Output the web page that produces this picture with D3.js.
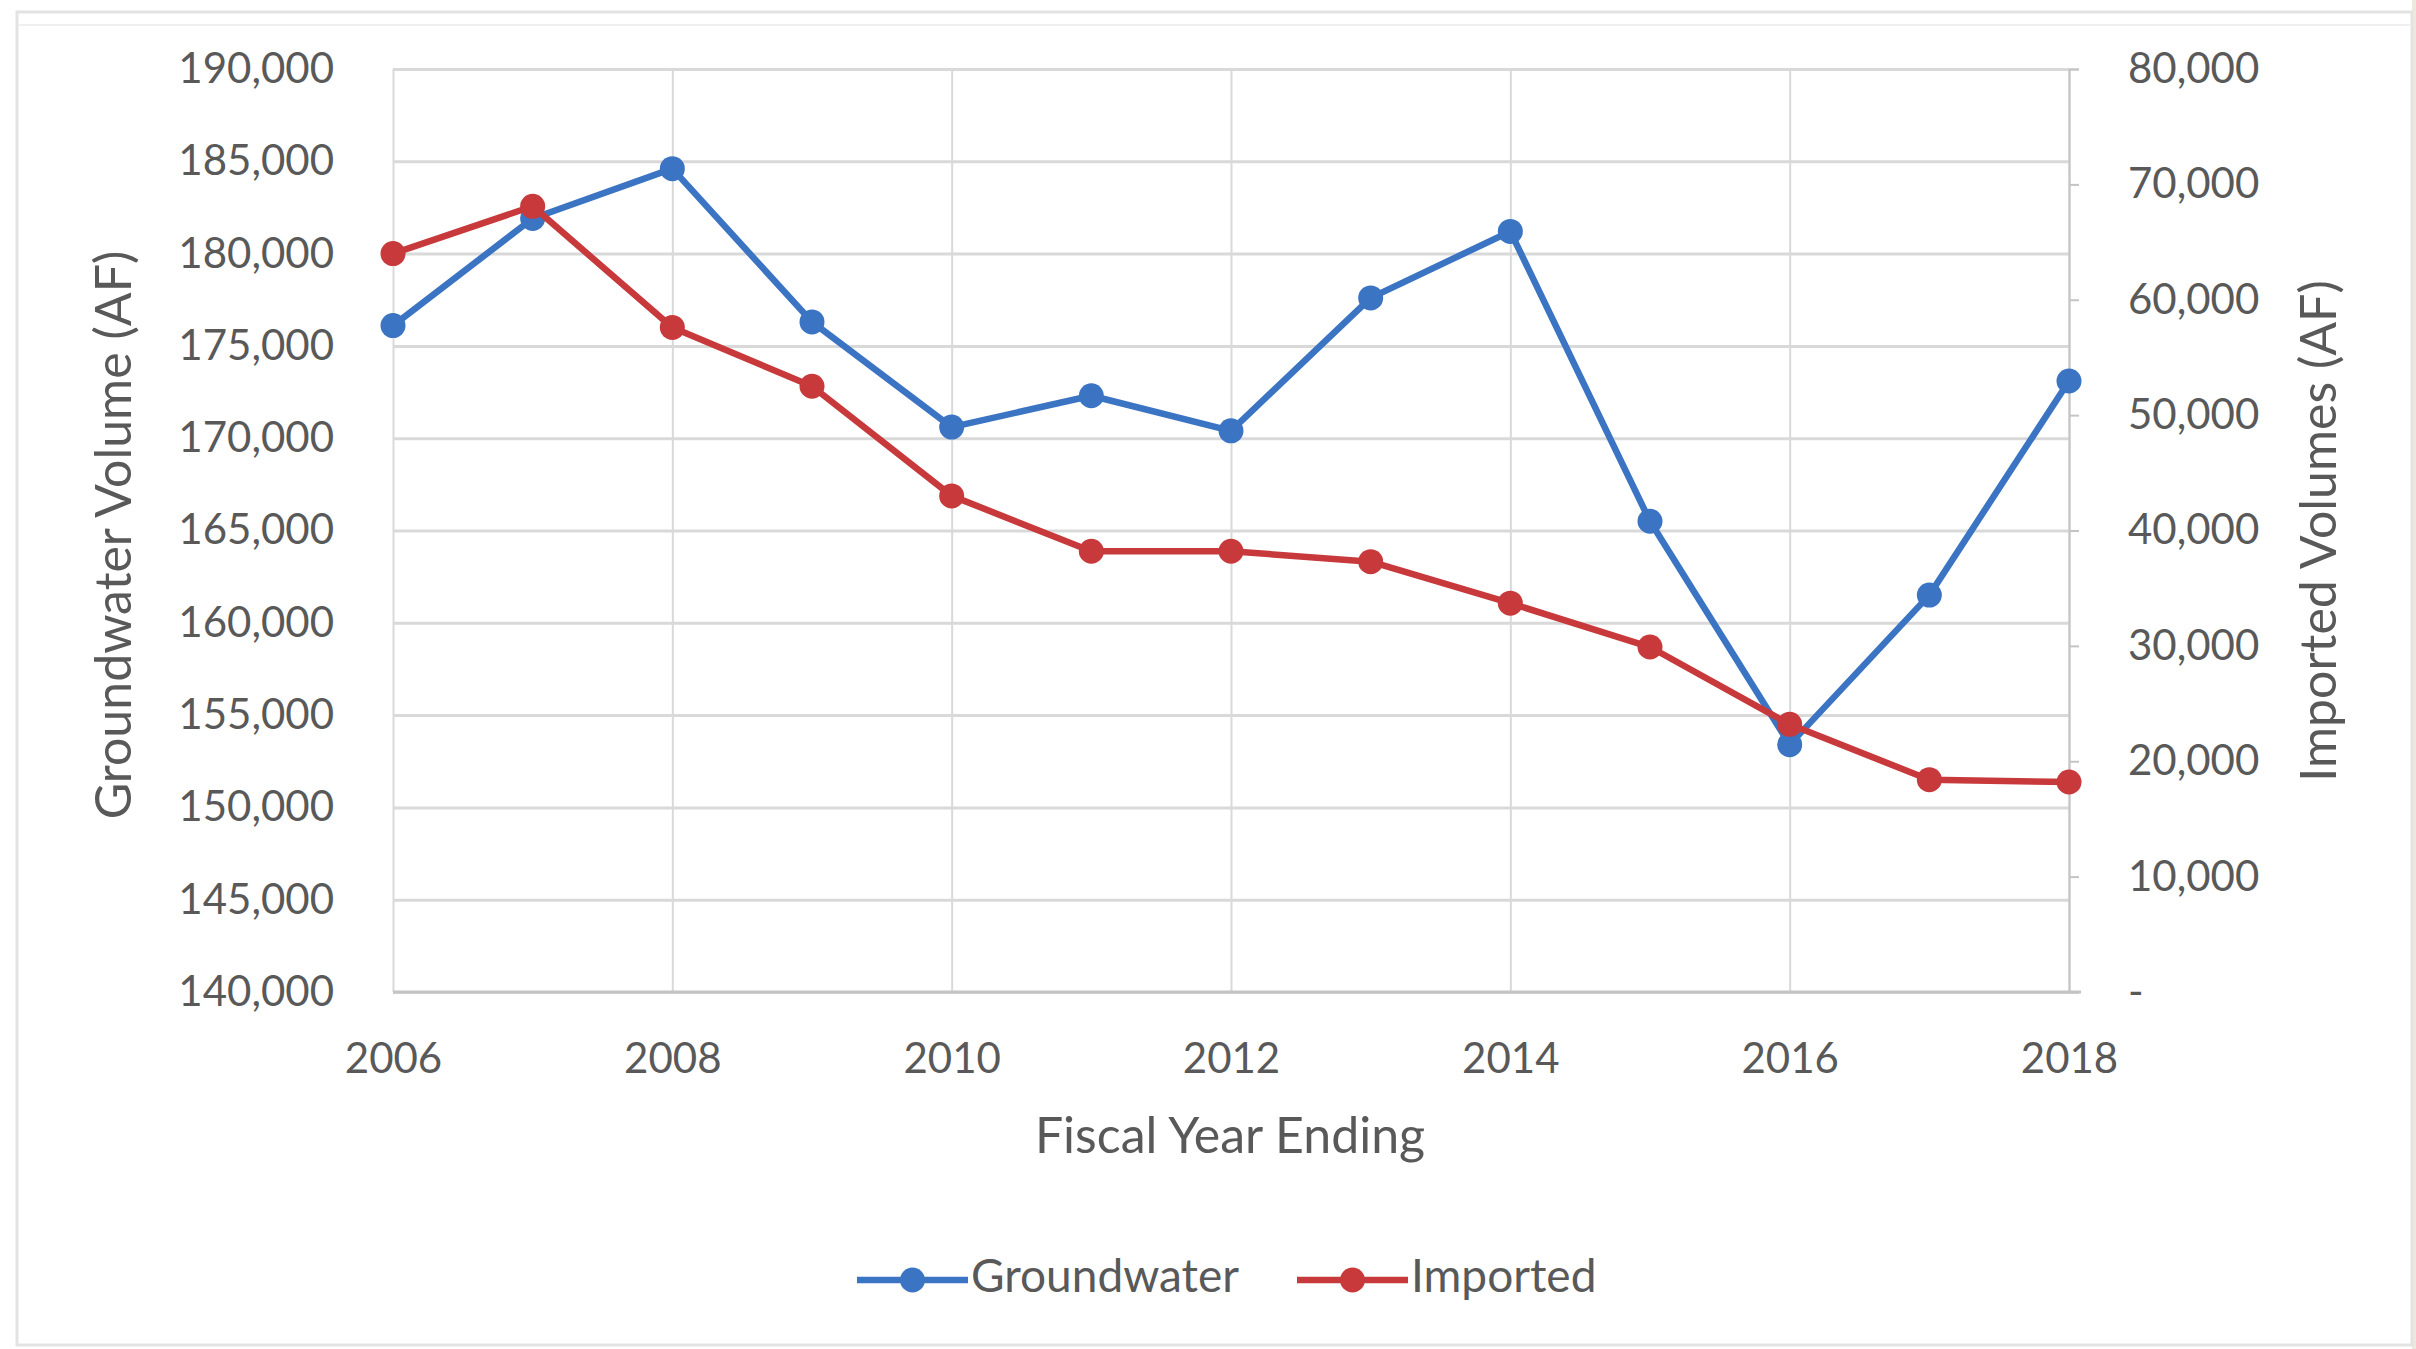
<!DOCTYPE html>
<html>
<head>
<meta charset="utf-8">
<script src="https://cdn.jsdelivr.net/npm/d3@7"></script>
<style>
  html, body { margin: 0; padding: 0; background: #ffffff; }
  svg { display: block; }
  text { font-family: Lato, "Open Sans", sans-serif; fill: #595959; }
</style>
</head>
<body>
<svg id="chart" width="2416" height="1349"></svg>
<script>
// ---- data ----
const years = [2006, 2007, 2008, 2009, 2010, 2011, 2012, 2013, 2014, 2015, 2016, 2017, 2018];
const groundwater = [176100, 181900, 184600, 176300, 170600, 172300, 170400, 177600, 181200, 165500, 153400, 161500, 173100];
const imported = [64000, 68100, 57600, 52500, 43000, 38200, 38200, 37300, 33700, 29900, 23200, 18400, 18200];
const xTicks = [2006, 2008, 2010, 2012, 2014, 2016, 2018];
const leftTicks = [140000, 145000, 150000, 155000, 160000, 165000, 170000, 175000, 180000, 185000, 190000];
const rightTicks = [0, 10000, 20000, 30000, 40000, 50000, 60000, 70000, 80000];
const seriesNames = ["Groundwater", "Imported"];
const xTitle = "Fiscal Year Ending";
const leftTitle = "Groundwater Volume (AF)";
const rightTitle = "Imported Volumes (AF)";

// ---- layout ----
const W = 2416, H = 1349;
const plot = { left: 393, right: 2069, top: 69, bottom: 992 };
const colors = { Groundwater: "#3b74c2", Imported: "#c8393c" };

const svg = d3.select("#chart");

// outer frame & side strip
svg.append("rect").attr("x", 2412).attr("y", 0).attr("width", 4).attr("height", H).attr("fill", "#eee9dc");
svg.append("rect").attr("x", 17).attr("y", 12).attr("width", 2395).attr("height", 1333)
  .attr("fill", "#ffffff").attr("stroke", "#e3e3e3").attr("stroke-width", 3);
svg.append("line").attr("x1", 19).attr("x2", 2411).attr("y1", 25).attr("y2", 25)
  .attr("stroke", "#f0f0f0").attr("stroke-width", 2);

const x = d3.scaleLinear().domain([2006, 2018]).range([plot.left, plot.right]);
const yL = d3.scaleLinear().domain([140000, 190000]).range([plot.bottom, plot.top]);
const yR = d3.scaleLinear().domain([0, 80000]).range([plot.bottom, plot.top]);

// horizontal gridlines
svg.append("g")
  .attr("transform", `translate(${plot.left},0)`)
  .call(d3.axisLeft(yL).tickValues(leftTicks).tickSize(-(plot.right - plot.left)).tickFormat(""))
  .call(g => g.select(".domain").remove())
  .call(g => g.selectAll("line").attr("stroke", "#d9d9d9").attr("stroke-width", 3));

// vertical gridlines
svg.append("g")
  .attr("transform", `translate(0,${plot.bottom})`)
  .call(d3.axisBottom(x).tickValues(xTicks).tickSize(-(plot.bottom - plot.top)).tickFormat(""))
  .call(g => g.select(".domain").remove())
  .call(g => g.selectAll("line").attr("stroke", "#d9d9d9").attr("stroke-width", 2));

// bottom axis line
svg.append("line").attr("x1", plot.left).attr("x2", plot.right + 12)
  .attr("y1", plot.bottom).attr("y2", plot.bottom)
  .attr("stroke", "#c4c4c4").attr("stroke-width", 3);

const tickFont = "42px";

// left axis labels
svg.append("g")
  .attr("transform", `translate(${plot.left},0)`)
  .call(d3.axisLeft(yL).tickValues(leftTicks).tickSize(0).tickPadding(59).tickFormat(d3.format(",")))
  .call(g => g.select(".domain").remove())
  .call(g => g.selectAll("text").style("font-size", tickFont).attr("fill", "#595959").style("font-family", "Lato, sans-serif"));

// right axis
svg.append("g")
  .attr("transform", `translate(${plot.right},0)`)
  .call(d3.axisRight(yR).tickValues(rightTicks).tickSize(10).tickPadding(49)
    .tickFormat(d => d === 0 ? "-" : d3.format(",")(d)))
  .call(g => g.select(".domain").attr("stroke", "#c4c4c4").attr("stroke-width", 2))
  .call(g => g.selectAll("line").attr("stroke", "#c4c4c4").attr("stroke-width", 2))
  .call(g => g.selectAll("text").style("font-size", tickFont).attr("fill", "#595959").style("font-family", "Lato, sans-serif"));

// x axis labels
svg.append("g")
  .attr("transform", `translate(0,${plot.bottom})`)
  .call(d3.axisBottom(x).tickValues(xTicks).tickSize(0).tickPadding(51).tickFormat(d3.format("d")))
  .call(g => g.select(".domain").remove())
  .call(g => g.selectAll("text").style("font-size", tickFont).attr("fill", "#595959").style("font-family", "Lato, sans-serif"));

// axis titles
svg.append("text").attr("x", 1230).attr("y", 1140).attr("text-anchor", "middle")
  .attr("dominant-baseline", "middle").style("font-size", "50px").text(xTitle);
svg.append("text").attr("transform", "translate(118,535) rotate(-90)").attr("text-anchor", "middle")
  .attr("dominant-baseline", "middle").style("font-size", "50px").text(leftTitle);
svg.append("text").attr("transform", "translate(2323,531) rotate(-90)").attr("text-anchor", "middle")
  .attr("dominant-baseline", "middle").style("font-size", "50px").text(rightTitle);

// series
const series = [
  { name: "Groundwater", values: groundwater, y: yL },
  { name: "Imported", values: imported, y: yR }
];
series.forEach(s => {
  const pts = years.map((yr, i) => [yr, s.values[i]]);
  const line = d3.line().x(d => x(d[0])).y(d => s.y(d[1]));
  svg.append("path").datum(pts).attr("d", line)
    .attr("fill", "none").attr("stroke", colors[s.name]).attr("stroke-width", 6.5)
    .attr("stroke-linejoin", "round");
  svg.append("g").selectAll("circle").data(pts).join("circle")
    .attr("cx", d => x(d[0])).attr("cy", d => s.y(d[1])).attr("r", 12.5)
    .attr("fill", colors[s.name]);
});

// legend
const legendItems = [
  { name: "Groundwater", x0: 857, x1: 968 },
  { name: "Imported", x0: 1297, x1: 1408 }
];
const ly = 1280;
const lg = svg.append("g");
legendItems.forEach(it => {
  lg.append("line").attr("x1", it.x0).attr("x2", it.x1).attr("y1", ly).attr("y2", ly)
    .attr("stroke", colors[it.name]).attr("stroke-width", 6.5);
  lg.append("circle").attr("cx", (it.x0 + it.x1) / 2).attr("cy", ly).attr("r", 12.5).attr("fill", colors[it.name]);
  lg.append("text").attr("x", it.x1 + 3).attr("y", ly).attr("dominant-baseline", "middle")
    .style("font-size", "46px").text(it.name);
});
</script>
</body>
</html>
